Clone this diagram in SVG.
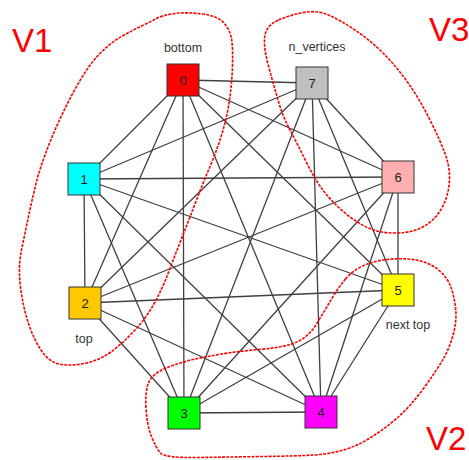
<svg xmlns="http://www.w3.org/2000/svg" width="469" height="460" viewBox="0 0 469 460">
<style>
.e{stroke:#404040;stroke-width:1.3;fill:none}
.n{stroke:#333;stroke-width:1}
.num{font-family:"Liberation Sans",Arial,sans-serif;font-size:13px;fill:#222;text-anchor:middle}
.lbl{font-family:"Liberation Sans",Arial,sans-serif;font-size:12.5px;fill:#333;text-anchor:middle}
.grp{fill:none;stroke:#ff0000;stroke-width:1.6;stroke-dasharray:3 1.2}
.big{font-family:"Liberation Sans",Arial,sans-serif;font-size:33px;fill:#ff0000}
</style>
<rect width="469" height="460" fill="#fff"/>
<g id="connectors">
<line class="e" x1="183" y1="80" x2="84" y2="179"/>
<line class="e" x1="183" y1="80" x2="85" y2="303"/>
<line class="e" x1="183" y1="80" x2="184" y2="413"/>
<line class="e" x1="183" y1="80" x2="321" y2="412"/>
<line class="e" x1="183" y1="80" x2="398" y2="290"/>
<line class="e" x1="183" y1="80" x2="398" y2="177"/>
<line class="e" x1="183" y1="80" x2="312" y2="83"/>
<line class="e" x1="84" y1="179" x2="85" y2="303"/>
<line class="e" x1="84" y1="179" x2="184" y2="413"/>
<line class="e" x1="84" y1="179" x2="321" y2="412"/>
<line class="e" x1="84" y1="179" x2="398" y2="290"/>
<line class="e" x1="84" y1="179" x2="398" y2="177"/>
<line class="e" x1="84" y1="179" x2="312" y2="83"/>
<line class="e" x1="85" y1="303" x2="184" y2="413"/>
<line class="e" x1="85" y1="303" x2="321" y2="412"/>
<line class="e" x1="85" y1="303" x2="398" y2="290"/>
<line class="e" x1="85" y1="303" x2="398" y2="177"/>
<line class="e" x1="85" y1="303" x2="312" y2="83"/>
<line class="e" x1="184" y1="413" x2="321" y2="412"/>
<line class="e" x1="184" y1="413" x2="398" y2="290"/>
<line class="e" x1="184" y1="413" x2="398" y2="177"/>
<line class="e" x1="184" y1="413" x2="312" y2="83"/>
<line class="e" x1="321" y1="412" x2="398" y2="290"/>
<line class="e" x1="321" y1="412" x2="398" y2="177"/>
<line class="e" x1="321" y1="412" x2="312" y2="83"/>
<line class="e" x1="398" y1="290" x2="398" y2="177"/>
<line class="e" x1="398" y1="290" x2="312" y2="83"/>
<line class="e" x1="398" y1="177" x2="312" y2="83"/>
</g>
<g id="node0"><rect class="n" x="167" y="64" width="32" height="32" fill="#ff0000"/><text class="num" x="183" y="85">0</text><text class="lbl" x="183" y="52">bottom</text></g>
<g id="node1"><rect class="n" x="68" y="163" width="32" height="32" fill="#00ffff"/><text class="num" x="84" y="184">1</text></g>
<g id="node2"><rect class="n" x="69" y="287" width="32" height="32" fill="#ffc800"/><text class="num" x="85" y="308">2</text><text class="lbl" x="84" y="343">top</text></g>
<g id="node3"><rect class="n" x="168" y="397" width="32" height="32" fill="#00ff00"/><text class="num" x="184" y="418">3</text></g>
<g id="node4"><rect class="n" x="305" y="396" width="32" height="32" fill="#ff00ff"/><text class="num" x="321" y="417">4</text></g>
<g id="node5"><rect class="n" x="382" y="274" width="32" height="32" fill="#ffff00"/><text class="num" x="398" y="295">5</text><text class="lbl" x="408" y="329">next top</text></g>
<g id="node6"><rect class="n" x="382" y="161" width="32" height="32" fill="#ffafaf"/><text class="num" x="398" y="182">6</text></g>
<g id="node7"><rect class="n" x="296" y="67" width="32" height="32" fill="#c0c0c0"/><text class="num" x="312" y="88">7</text><text class="lbl" x="317" y="51">n_vertices</text></g>
<g id="groups">
<path class="grp" d="M156.5,18.5 Q163,15 175,13.5 Q187,12 202.5,14 Q218,16 224,23 Q230,30 231.5,38.5 Q233,47 232.5,65 Q232,83 229.5,100 Q227,117 222,133.5 Q217,150 210,166.5 Q203,183 196.5,200 Q190,217 185.5,228.5 Q181,240 176.5,251.5 Q172,263 167.5,275 Q163,287 155,302 Q147,317 135,330 Q123,343 111.5,351.5 Q100,360 86.5,363 Q73,366 61.5,364.5 Q50,363 42,351.5 Q34,340 28.5,323.5 Q23,307 20.5,287 Q18,267 21.5,250 Q25,233 28.5,216.5 Q32,200 36,183.5 Q40,167 50,142 Q60,117 73.5,92 Q87,67 98.5,55 Q110,43 121.5,36.5 Q133,30 141.5,26 Q150,22 156.5,18.5 Z"/>
<path class="grp" d="M278.5,20 Q290,15 303.5,12.5 Q317,10 328.5,15 Q340,20 355,30 Q370,40 383.5,53.5 Q397,67 408.5,83.5 Q420,100 430,120 Q440,140 445,153.5 Q450,167 449.5,179.5 Q449,192 444.5,202.5 Q440,213 432.5,220 Q425,227 416,230 Q407,233 393.5,233 Q380,233 368.5,228 Q357,223 345,213 Q333,203 324,191.5 Q315,180 306,161.5 Q297,143 290,130 Q283,117 278,100 Q273,83 268,64 Q263,45 265,35 Q267,25 278.5,20 Z"/>
<path class="grp" d="M345.5,279 Q353,270 365,265 Q377,260 392,259 Q407,258 418.5,260.5 Q430,263 438.5,270 Q447,277 450.5,286 Q454,295 455.5,307.5 Q457,320 453.5,333.5 Q450,347 443.5,358.5 Q437,370 423.5,388.5 Q410,407 396.5,418.5 Q383,430 370,438 Q357,446 343.5,450 Q330,454 313.5,455 Q297,456 263.5,456.5 Q230,457 197.5,457.5 Q165,458 160.5,453 Q156,448 151.5,436.5 Q147,425 146,408.5 Q145,392 148.5,383 Q152,374 166,368 Q180,362 205,357 Q230,352 259,349.5 Q288,347 299,341 Q310,335 317.5,322.5 Q325,310 331.5,299 Q338,288 345.5,279 Z"/>
<text class="big" x="12" y="52">V1</text>
<text class="big" x="429" y="41">V3</text>
<text class="big" x="426" y="450">V2</text>
</g>
</svg>
